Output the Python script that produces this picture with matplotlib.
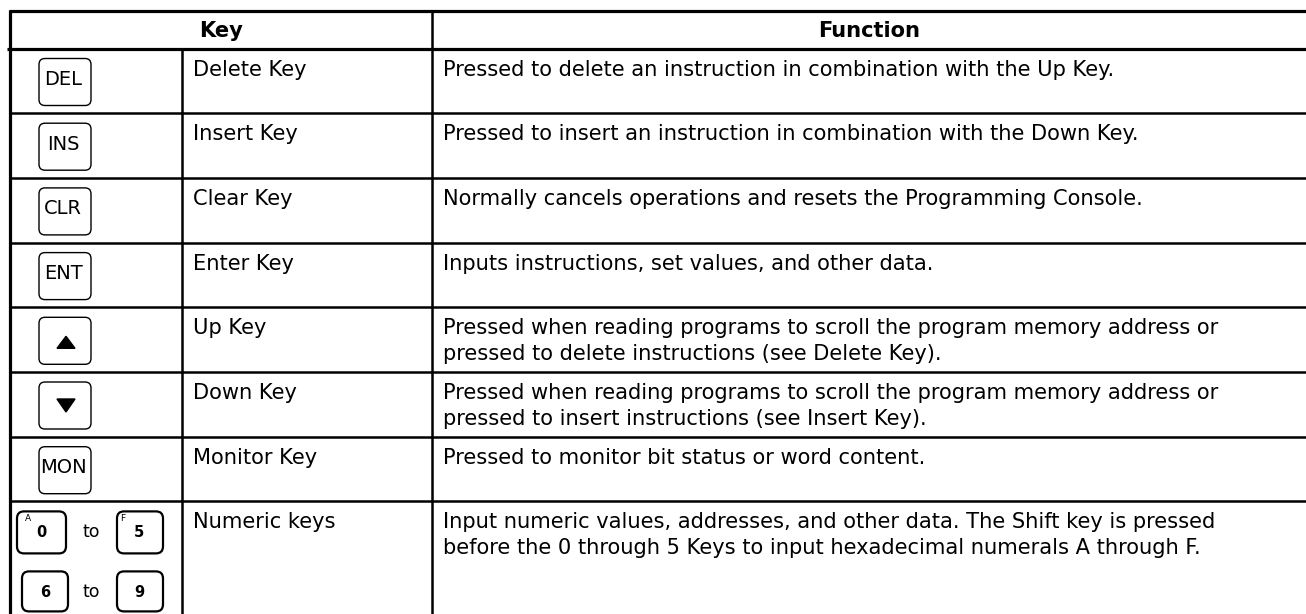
import matplotlib
matplotlib.use("Agg")
import matplotlib.pyplot as plt
from matplotlib.patches import FancyBboxPatch, Polygon

plt.rcParams['font.family'] = ['DejaVu Sans']

# table content
headers = ["Key", "Function"]
key_caps = ["DEL", "INS", "CLR", "ENT", "up", "down", "MON", "numeric"]
key_names = ["Delete Key", "Insert Key", "Clear Key", "Enter Key",
             "Up Key", "Down Key", "Monitor Key", "Numeric keys"]
functions = [
    "Pressed to delete an instruction in combination with the Up Key.",
    "Pressed to insert an instruction in combination with the Down Key.",
    "Normally cancels operations and resets the Programming Console.",
    "Inputs instructions, set values, and other data.",
    "Pressed when reading programs to scroll the program memory address or\npressed to delete instructions (see Delete Key).",
    "Pressed when reading programs to scroll the program memory address or\npressed to insert instructions (see Insert Key).",
    "Pressed to monitor bit status or word content.",
    "Input numeric values, addresses, and other data. The Shift key is pressed\nbefore the 0 through 5 Keys to input hexadecimal numerals A through F.",
]
numeric_pairs = [("0", "A", "5", "F"), ("6", "", "9", "")]

W, H = 1306, 614
fig = plt.figure(figsize=(W / 100, H / 100), dpi=100)
ax = fig.add_axes([0, 0, 1, 1])
ax.set_xlim(0, W)
ax.set_ylim(H, 0)
ax.axis('off')

# layout (pixels)
x_left, x_icon, x_div, x_right = 10, 182, 432, 1306
y_top, y_head = 10.5, 48.5
row_h = 64.7
fs = 15.1
lw_thick, lw_thin = 2.3, 1.8

n = len(key_names)
row_tops = [y_head + i * row_h for i in range(n)]

# grid lines
kw = dict(color='black', solid_capstyle='butt')
ax.plot([x_left - 1, W + 5], [y_top, y_top], lw=lw_thick, **kw)
ax.plot([x_left - 3, W + 5], [y_head, y_head], lw=lw_thick, **kw)
ax.plot([x_left, x_left], [y_top - 1, H + 5], lw=lw_thick, **kw)
ax.plot([x_div, x_div], [y_top, H + 5], lw=lw_thin, **kw)
ax.plot([x_icon, x_icon], [y_head, H + 5], lw=lw_thin, **kw)
for yt in row_tops[1:]:
    ax.plot([x_left, W + 5], [yt, yt], lw=lw_thin, **kw)

# header text
ax.text((x_left + x_div) / 2, 37, headers[0], ha='center', va='baseline',
        fontsize=fs, fontweight='bold')
ax.text((x_div + x_right) / 2, 37, headers[1], ha='center', va='baseline',
        fontsize=fs, fontweight='bold')


def keycap(x0, y0, w, h, r=6, lw=1.0):
    ax.add_patch(FancyBboxPatch((x0 + r, y0 + r), w - 2 * r, h - 2 * r,
                                boxstyle="round,pad=%d" % r, fc='white', ec='black', lw=lw))


for i in range(n):
    yt = row_tops[i]
    ax.text(x_icon + 11, yt + 11, key_names[i], ha='left', va='top', fontsize=fs)
    ax.text(x_div + 11, yt + 11, functions[i], ha='left', va='top', fontsize=fs,
            linespacing=1.36)
    cap = key_caps[i]
    if cap == "numeric":
        for j, (a, sa, b, sb) in enumerate(numeric_pairs):
            by = yt + 10 + j * 60
            bh = 42 if j == 0 else 40
            bx1, bw1 = (17, 49) if j == 0 else (22, 46)
            keycap(bx1, by, bw1, bh, r=7, lw=1.6)
            keycap(117, by, 46, bh, r=7, lw=1.6)
            ax.text(bx1 + bw1 / 2, by + 21, a, ha='center', va='center', fontsize=10.5, fontweight='bold')
            ax.text(117 + 22, by + 21, b, ha='center', va='center', fontsize=10.5, fontweight='bold')
            if sa:
                ax.text(bx1 + 11, by + 7, sa, ha='center', va='center', fontsize=6.5)
                ax.text(117 + 6, by + 7, sb, ha='center', va='center', fontsize=6.5)
            ax.text(91.5, by + 21, "to", ha='center', va='center', fontsize=12.5)
        continue
    bx, by = 39, yt + 10
    keycap(bx, by, 52, 47)
    if cap == "up":
        ax.add_patch(Polygon([[57, by + 31], [75, by + 31], [66, by + 19]], closed=True, color='black'))
    elif cap == "down":
        ax.add_patch(Polygon([[57, by + 17], [75, by + 17], [66, by + 30]], closed=True, color='black'))
    else:
        ax.text(bx + 24, by + 21, cap, ha='center', va='center', fontsize=14)

fig.savefig("out.png", dpi=100)
